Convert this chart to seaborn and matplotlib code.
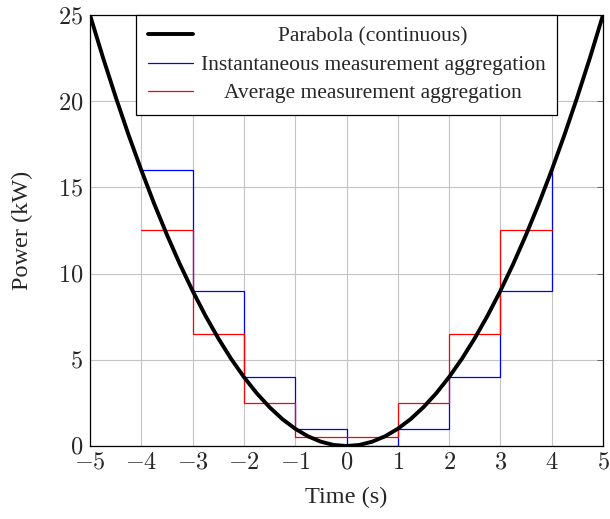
import matplotlib
matplotlib.use("Agg")
import numpy as np
import pandas as pd
import seaborn as sns
import matplotlib.pyplot as plt

# continuous curve
curve_t = [-5, -4.75, -4.5, -4.25, -4, -3.75, -3.5, -3.25, -3, -2.75, -2.5,
           -2.25, -2, -1.75, -1.5, -1.25, -1, -0.75, -0.5, -0.25, 0,
           0.25, 0.5, 0.75, 1, 1.25, 1.5, 1.75, 2, 2.25, 2.5,
           2.75, 3, 3.25, 3.5, 3.75, 4, 4.25, 4.5, 4.75, 5]
curve_p = [25, 22.56, 20.25, 18.06, 16, 14.06, 12.25, 10.56, 9, 7.56, 6.25,
           5.06, 4, 3.06, 2.25, 1.56, 1, 0.56, 0.25, 0.06, 0,
           0.06, 0.25, 0.56, 1, 1.56, 2.25, 3.06, 4, 5.06, 6.25,
           7.56, 9, 10.56, 12.25, 14.06, 16, 18.06, 20.25, 22.56, 25]

# step series (value held from each sample time to the next)
step_t = [-4, -3, -2, -1, 0, 1, 2, 3, 4]
inst_p = [16, 9, 4, 1, 0, 1, 4, 9, 16]
avg_p = [12.5, 6.5, 2.5, 0.5, 0.5, 2.5, 6.5, 12.5, 12.5]

x_ticks = [-5, -4, -3, -2, -1, 0, 1, 2, 3, 4, 5]
y_ticks = [0, 5, 10, 15, 20, 25]

sns.set_theme(style="white")
plt.rcParams['font.family'] = ['Liberation Serif', 'DejaVu Serif']
plt.rcParams['mathtext.fontset'] = 'cm'

fig = plt.figure(figsize=(6.1, 5.19), dpi=100)
ax = fig.add_axes([90 / 610, 1 - 446 / 519, 513 / 610, 431 / 519])

sns.lineplot(x=curve_t, y=curve_p, ax=ax, color='black', linewidth=2.8,
             estimator=None, sort=False, label='Parabola (continuous)', zorder=4)
sns.lineplot(x=step_t, y=inst_p, ax=ax, color='#0000ff', linewidth=0.9,
             drawstyle='steps-post', estimator=None, sort=False,
             label='Instantaneous measurement aggregation', zorder=3)
sns.lineplot(x=step_t, y=avg_p, ax=ax, color='#ff0000', linewidth=0.9,
             drawstyle='steps-post', estimator=None, sort=False,
             label='Average measurement aggregation', zorder=3)

ax.set_xlim(-5, 5)
ax.set_ylim(0, 25)
ax.set_xticks(x_ticks, [f'${v}$' for v in x_ticks], fontsize=17.5)
ax.set_yticks(y_ticks, [f'${v}$' for v in y_ticks], fontsize=17.5)
ax.grid(True, color='#c4c4c4', linewidth=0.8)
ax.set_axisbelow(True)
ax.tick_params(direction='in', length=4, width=0.6, color='#555555',
               top=True, right=True)
ax.tick_params(axis='x', pad=5)
ax.tick_params(axis='y', pad=5)
for s in ax.spines.values():
    s.set_color('black')
    s.set_linewidth(0.9)

ax.set_xlabel('Time (s)', fontsize=17.5, labelpad=9)
ax.set_ylabel('Power (kW)', fontsize=17.5, labelpad=18)

leg = ax.legend(loc='upper center', bbox_to_anchor=(0.5, 1.0), borderaxespad=0,
                fontsize=15.5, frameon=True, fancybox=False, framealpha=1,
                edgecolor='black', handlelength=2.1, handletextpad=0.37,
                labelspacing=0.38, borderpad=0.55)
leg.get_frame().set_linewidth(0.9)

# centre the legend texts like the original
fig.canvas.draw()
texts = leg.get_texts()
widths = [t.get_window_extent().width for t in texts]
for t, w in zip(texts, widths):
    t.set_position(((max(widths) - w) / 2, 0))

fig.savefig('out.png', dpi=100)
